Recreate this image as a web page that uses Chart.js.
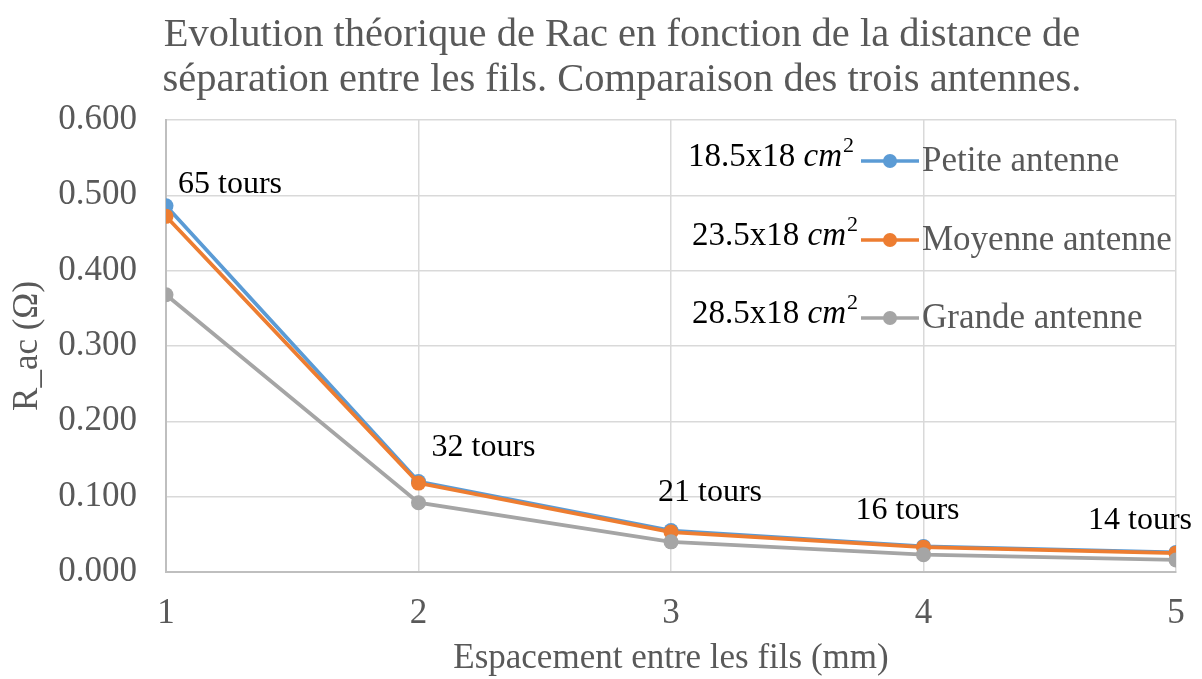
<!DOCTYPE html>
<html>
<head>
    <title>Rac - antennes</title>
    <meta charset="utf-8">
    <script src="https://cdn.jsdelivr.net/npm/chart.js"></script>
    <style>
        body { margin: 0; background-color: #FFFFFF; }
    </style>
</head>
<body>
    <canvas id="racChart" width="1202" height="679"></canvas>
<script>
    // Espacement entre les fils (mm)
    var espacements = [1, 2, 3, 4, 5];
    // R_ac (ohm) pour chaque antenne
    var petite = [0.486, 0.120, 0.055, 0.034, 0.026];
    var moyenne = [0.472, 0.118, 0.053, 0.033, 0.025];
    var grande = [0.368, 0.092, 0.040, 0.023, 0.016];
    // nombre de tours pour chaque espacement
    var tours = [65, 32, 21, 16, 14];
    var noms = ["Petite antenne", "Moyenne antenne", "Grande antenne"];
    var surfaces = ["18.5x18", "23.5x18", "28.5x18"];
    var couleurs = ["#5B9BD5", "#ED7D31", "#A5A5A5"];

    var police = "'Liberation Serif', 'Times New Roman', serif";
    var gris = "#595959";

    function points(valeurs) {
        return espacements.map(function (x, i) { return { x: x, y: valeurs[i] }; });
    }

    function serie(i, valeurs, ordre) {
        return {
            label: noms[i],
            data: points(valeurs),
            borderColor: couleurs[i],
            backgroundColor: couleurs[i],
            borderWidth: 3.75,
            pointRadius: 7.5,
            pointBorderWidth: 0,
            pointBackgroundColor: couleurs[i],
            order: ordre
        };
    }

    // décalage des étiquettes "tours" par rapport aux points de la petite antenne
    var decalages = [[64, -21], [65, -34], [39, -38], [-16, -36], [-36, -32]];

    var etiquettes = {
        id: "etiquettes",
        afterDatasetsDraw: function (chart) {
            var ctx = chart.ctx;
            var xs = chart.scales.x, ys = chart.scales.y;
            ctx.save();

            // nombre de tours
            ctx.font = "32px " + police;
            ctx.fillStyle = "#000000";
            ctx.textAlign = "center";
            ctx.textBaseline = "middle";
            tours.forEach(function (t, i) {
                var px = xs.getPixelForValue(espacements[i]);
                var py = ys.getPixelForValue(petite[i]);
                ctx.fillText(t + " tours", px + decalages[i][0], py + decalages[i][1]);
            });

            // légende avec la surface de chaque antenne
            var lignes = [161, 240, 318];
            chart.data.datasets.forEach(function (ds, i) {
                var y = lignes[i];
                ctx.strokeStyle = ds.borderColor;
                ctx.lineWidth = 3.5;
                ctx.beginPath();
                ctx.moveTo(861, y);
                ctx.lineTo(919, y);
                ctx.stroke();
                ctx.fillStyle = ds.borderColor;
                ctx.beginPath();
                ctx.arc(890, y, 7, 0, Math.PI * 2);
                ctx.fill();

                ctx.textAlign = "left";
                ctx.fillStyle = gris;
                ctx.font = "35px " + police;
                ctx.fillText(ds.label, 922, y + 1);

                // "18.5x18 cm²"
                ctx.fillStyle = "#000000";
                ctx.textAlign = "right";
                ctx.font = "22px " + police;
                var fin = i === 0 ? 854 : 858;
                ctx.fillText("2", fin, y - 15);
                var wExp = ctx.measureText("2").width;
                ctx.font = "italic 33px " + police;
                ctx.fillText("cm", fin - wExp - 1, y - 4);
                var wCm = ctx.measureText("cm").width;
                ctx.font = "33px " + police;
                ctx.fillText(surfaces[i] + " ", fin - wExp - 1 - wCm, y - 4);
            });
            ctx.restore();
        }
    };

    new Chart(document.getElementById("racChart").getContext("2d"), {
        type: "line",
        data: {
            datasets: [serie(0, petite, 3), serie(1, moyenne, 2), serie(2, grande, 1)]
        },
        options: {
            responsive: false,
            animation: false,
            layout: { padding: { left: 42, right: 0, top: 0, bottom: 0 } },
            plugins: {
                legend: { display: false },
                tooltip: { enabled: false },
                title: {
                    display: true,
                    text: ["Evolution théorique de Rac en fonction de la distance de",
                           "séparation entre les fils. Comparaison des trois antennes."],
                    color: gris,
                    font: { family: police, size: 40.5, weight: "normal", lineHeight: 1.11 },
                    padding: { top: 13, bottom: 17 }
                }
            },
            scales: {
                x: {
                    type: "linear",
                    min: 1,
                    max: 5,
                    afterFit: function (s) {
                        s.height = 107;
                        s.paddingLeft = 0;
                        s.paddingRight = 26;
                    },
                    ticks: {
                        stepSize: 1,
                        padding: 21,
                        color: gris,
                        font: { family: police, size: 35 }
                    },
                    grid: { color: "#D9D9D9", lineWidth: 1.5, drawTicks: false },
                    border: { color: "#BFBFBF", width: 2 },
                    title: {
                        display: true,
                        text: "Espacement entre les fils (mm)",
                        color: gris,
                        font: { family: police, size: 35 },
                        padding: { top: 0, bottom: -1 }
                    }
                },
                y: {
                    min: 0,
                    max: 0.6,
                    afterFit: function (s) { s.width = 124; },
                    ticks: {
                        stepSize: 0.1,
                        padding: 29,
                        color: gris,
                        font: { family: police, size: 35 },
                        callback: function (v) { return v.toFixed(3); }
                    },
                    grid: { color: "#D9D9D9", lineWidth: 1.5, drawTicks: false },
                    border: { color: "#BFBFBF", width: 2 },
                    title: {
                        display: true,
                        text: "R_ac (Ω)",
                        color: gris,
                        font: { family: police, size: 35 },
                        padding: { top: -35, bottom: 0 }
                    }
                }
            }
        },
        plugins: [etiquettes]
    });
</script>
</body>
</html>
